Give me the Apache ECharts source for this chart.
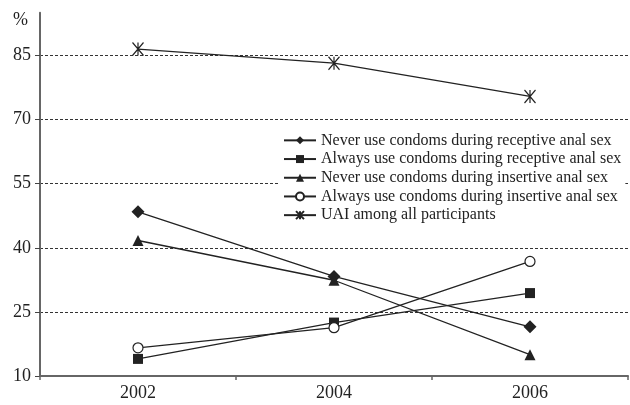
<!DOCTYPE html>
<html><head><meta charset="utf-8">
<script src="https://cdn.jsdelivr.net/npm/echarts@6/dist/echarts.min.js"></script>
<style>html,body{margin:0;padding:0;background:#fff}#c{width:630px;height:405px}</style>
</head><body><div id="c"></div>
<script>
var years = ['2002', '2004', '2006'];
var yTicks = [10, 25, 40, 55, 70, 85];
var neverReceptive = [48.4, 33.3, 21.5];
var alwaysReceptive = [14.0, 22.5, 29.4];
var neverInsertive = [41.7, 32.4, 15.0];
var alwaysInsertive = [16.6, 21.3, 36.8];
var uaiAll = [86.5, 83.2, 75.4];
var seriesNames = [
  'Never use condoms during receptive anal sex',
  'Always use condoms during receptive anal sex',
  'Never use condoms during insertive anal sex',
  'Always use condoms during insertive anal sex',
  'UAI among all participants'
];

var ink = '#222';
var font = 'Liberation Serif';
var star = 'path://M0,0L10,12M10,0L0,12M5,0L5,12';

function mk(name, data, symbol, size, hollow) {
  var s = {
    name: name, type: 'line', data: data,
    symbol: symbol, symbolSize: size,
    lineStyle: { color: ink, width: 1.3 },
    itemStyle: { color: ink },
    emphasis: { disabled: true },
    animation: false, z: 3
  };
  if (hollow === 'circle') {
    s.itemStyle = { color: '#fff', borderColor: ink, borderWidth: 1.2 };
  } else if (hollow === 'star') {
    s.itemStyle = { color: 'none', borderColor: ink, borderWidth: 1.3 };
  }
  return s;
}

var chart = echarts.init(document.getElementById('c'), null, { renderer: 'canvas' });
chart.setOption({
  backgroundColor: '#fff',
  animation: false,
  grid: { left: 40, right: 2, top: 12.7, bottom: 29 },
  legend: {
    orient: 'vertical', left: 280, top: 132, padding: [0, 4, 0, 3],
    backgroundColor: '#fff',
    itemWidth: 32, itemHeight: 10, itemGap: 2,
    textStyle: { fontFamily: font, fontSize: 16, color: ink, lineHeight: 16.7 },
    data: seriesNames
  },
  xAxis: {
    type: 'category', data: years, boundaryGap: true,
    axisLine: { lineStyle: { color: '#666', width: 2 } },
    axisTick: { show: true, length: 4, lineStyle: { color: '#666', width: 1.5 } },
    axisLabel: { fontFamily: font, fontSize: 18, color: ink, margin: 8 },
    splitLine: { show: false }
  },
  yAxis: {
    type: 'value', min: 10, max: 95, interval: 15,
    name: '%', nameLocation: 'end', nameGap: -8,
    nameTextStyle: { fontFamily: font, fontSize: 18, color: ink, align: 'right', verticalAlign: 'middle', padding: [0, 12, 0, 0] },
    axisLine: { show: true, lineStyle: { color: '#666', width: 2 } },
    axisTick: { show: true, length: 5, customValues: yTicks, lineStyle: { color: '#444', width: 1 } },
    axisLabel: { fontFamily: font, fontSize: 18, color: ink, margin: 9, customValues: yTicks },
    splitLine: { show: true, showMinLine: false, lineStyle: { color: '#333', width: 1, type: [3, 2] } }
  },
  series: [
    mk(seriesNames[0], neverReceptive, 'diamond', 13),
    mk(seriesNames[1], alwaysReceptive, 'rect', 10),
    mk(seriesNames[2], neverInsertive, 'triangle', 11),
    mk(seriesNames[3], alwaysInsertive, 'circle', 10, 'circle'),
    mk(seriesNames[4], uaiAll, star, [11, 13], 'star')
  ]
});
</script></body></html>
